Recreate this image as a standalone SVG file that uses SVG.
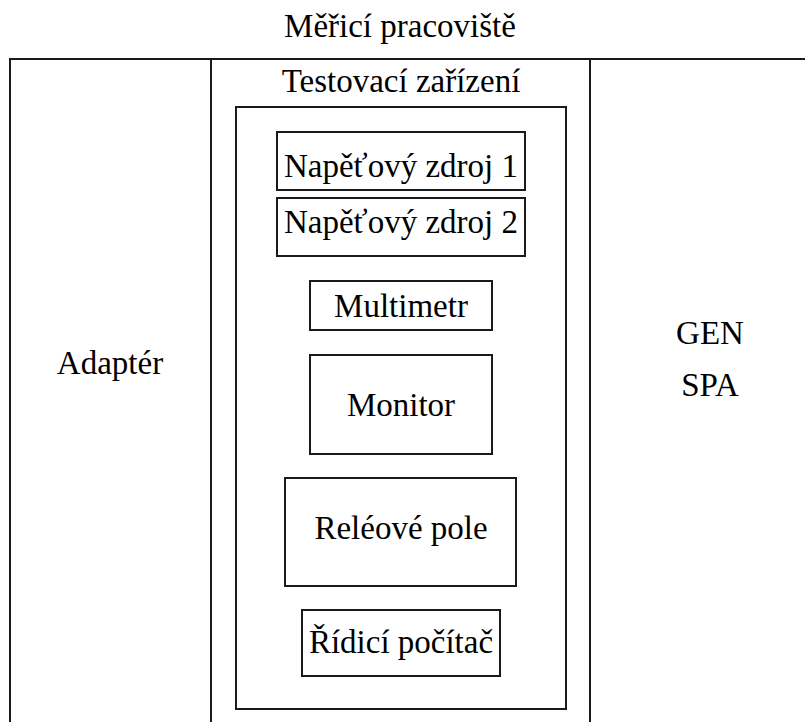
<svg xmlns="http://www.w3.org/2000/svg" width="805" height="722" viewBox="0 0 805 722">
<style>
.b{fill:none;stroke:#1a1a1a;stroke-width:2}
</style>
<rect width="805" height="722" fill="#fff"/>
<g font-family="Liberation Serif, Times New Roman, serif" font-size="33" fill="#000" text-anchor="middle">
<g id="frame">
<text x="400" y="37">Měřicí pracoviště</text>
<rect class="b" x="10" y="59" width="830" height="700"/>
</g>
<g id="adapter">
<rect class="b" x="10" y="59" width="201" height="700"/>
<text x="110" y="374">Adaptér</text>
</g>
<g id="testovaci">
<rect class="b" x="211" y="59" width="379" height="700"/>
<text x="401" y="92">Testovací zařízení</text>
<rect class="b" x="236" y="107" width="330" height="602"/>
</g>
<g id="gen-spa">
<text x="710" y="344">GEN</text>
<text x="710" y="396">SPA</text>
</g>
<g id="zdroj1"><rect class="b" x="277" y="132" width="248" height="58"/><text x="401" y="177">Napěťový zdroj 1</text></g>
<g id="zdroj2"><rect class="b" x="277" y="198" width="248" height="58"/><text x="401" y="233">Napěťový zdroj 2</text></g>
<g id="multimetr"><rect class="b" x="310" y="281" width="182" height="49"/><text x="401" y="317">Multimetr</text></g>
<g id="monitor"><rect class="b" x="310" y="355" width="182" height="99"/><text x="401" y="416">Monitor</text></g>
<g id="rele"><rect class="b" x="285" y="478" width="231" height="108"/><text x="401" y="539">Reléové pole</text></g>
<g id="pocitac"><rect class="b" x="302" y="610" width="198" height="66"/><text x="401" y="653">Řídicí počítač</text></g>
</g>
<g id="connectors"></g>
</svg>
